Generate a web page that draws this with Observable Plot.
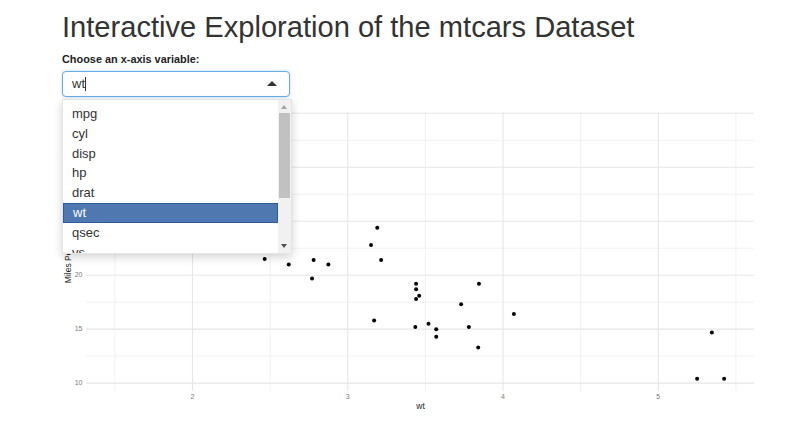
<!DOCTYPE html>
<html>
<head>
<meta charset="utf-8">
<script src="https://cdn.jsdelivr.net/npm/d3@7"></script>
<script src="https://cdn.jsdelivr.net/npm/@observablehq/plot@0.6"></script>
<style>
  html, body { margin: 0; padding: 0; background: #fff; width: 800px; height: 440px; overflow: hidden; }
  body { font-family: "Liberation Sans", Arial, Helvetica, sans-serif; color: #333; position: relative; }
  h1 { position: absolute; left: 62px; top: 7px; margin: 0; font-size: 29.1px; font-weight: 400; line-height: 40px; white-space: nowrap; }
  .lbl { position: absolute; left: 62px; top: 52px; font-size: 10.9px; font-weight: 700; line-height: 14px; color: #222; }
  #chart { position: absolute; left: 0; top: 100px; }
  .sel { position: absolute; left: 62px; top: 71px; width: 226px; height: 24px; border: 1px solid #66afe9; border-radius: 4px; box-shadow: 0 0 3px rgba(102,175,233,0.5); background: #fff; z-index: 2; }
  .sel .val { position: absolute; left: 9px; top: 4px; font-size: 13px; color: #333; }
  .sel .caret { position: absolute; left: 22px; top: 5px; width: 1px; height: 14px; background: #333; }
  .sel .tri { position: absolute; right: 12px; top: 9px; width: 0; height: 0; border-left: 5px solid transparent; border-right: 5px solid transparent; border-bottom: 5px solid #333; }
  .drop { position: absolute; left: 62px; top: 99px; width: 228px; height: 153px; background: #fff; border: 1px solid #e4e4e4; border-radius: 0 0 3px 3px; box-shadow: 0 3px 10px rgba(0,0,0,0.18); overflow: hidden; z-index: 2; }
  .drop .item { position: absolute; left: 0; width: 215px; height: 20px; font-size: 13px; line-height: 20px; padding-left: 9px; box-sizing: border-box; color: #333; }
  .drop .item.on { background: #4f78b1; color: #fff; border: 1px solid #2d5b9c; line-height: 18px; }
  .sb { position: absolute; right: 0; top: 0; width: 13px; height: 100%; background: #f1f1f1; }
  .sb .thumb { position: absolute; left: 1px; top: 13px; width: 11px; height: 85px; background: #c1c1c1; }
  .sb .up { position: absolute; left: 3px; top: 5px; border-left: 3.5px solid transparent; border-right: 3.5px solid transparent; border-bottom: 4px solid #a3a3a3; }
  .sb .dn { position: absolute; left: 3px; bottom: 5px; border-left: 3.5px solid transparent; border-right: 3.5px solid transparent; border-top: 4px solid #505050; }
</style>
</head>
<body>
<h1>Interactive Exploration of the mtcars Dataset</h1>
<div class="lbl">Choose an x-axis variable:</div>
<div class="sel"><span class="val">wt</span><span class="caret"></span><span class="tri"></span></div>
<div class="drop" id="drop"><div class="sb"><div class="up"></div><div class="thumb"></div><div class="dn"></div></div></div>
<div id="chart"></div>
<script>
// mtcars: weight (1000 lbs) and miles per gallon
const wt  = [2.620, 2.875, 2.320, 3.215, 3.440, 3.460, 3.570, 3.190, 3.150, 3.440, 3.440, 4.070, 3.730, 3.780, 5.250, 5.424, 5.345, 2.200, 1.615, 1.835, 2.465, 3.520, 3.435, 3.840, 3.845, 1.935, 2.140, 1.513, 3.170, 2.770, 3.570, 2.780];
const mpg = [21.0, 21.0, 22.8, 21.4, 18.7, 18.1, 14.3, 24.4, 22.8, 19.2, 17.8, 16.4, 17.3, 15.2, 10.4, 10.4, 14.7, 32.4, 30.4, 33.9, 21.5, 15.5, 15.2, 13.3, 19.2, 27.3, 26.0, 30.4, 15.8, 19.7, 15.0, 21.4];
const options = ["mpg", "cyl", "disp", "hp", "drat", "wt", "qsec", "vs", "am", "gear", "carb"];
const selected = "wt";
const xMajor = [2, 3, 4, 5];
const xMinor = [1.5, 2.5, 3.5, 4.5, 5.5];
const yMajor = [10, 15, 20, 25, 30, 35];
const yMinor = [12.5, 17.5, 22.5, 27.5, 32.5];
const xTitle = "wt";
const yTitle = "Miles Per Gallon";

// dropdown list
const drop = document.getElementById("drop");
options.forEach((o, i) => {
  const d = document.createElement("div");
  d.className = "item" + (o === selected ? " on" : "");
  d.style.top = (4 + i * 19.8) + "px";
  d.textContent = o;
  drop.insertBefore(d, drop.firstChild);
});

const data = wt.map((w, i) => ({wt: w, mpg: mpg[i]}));
const pad = (lo, hi) => [lo - (hi - lo) * 0.05, hi + (hi - lo) * 0.05];
const xd = pad(d3.min(wt), d3.max(wt));
const yd = pad(d3.min(mpg), d3.max(mpg));

const chart = Plot.plot({
  width: 800,
  height: 320,
  marginTop: 12,
  marginBottom: 29,
  marginLeft: 86,
  marginRight: 46,
  style: {fontFamily: "Liberation Sans, Arial, sans-serif", background: "#fff"},
  x: {domain: xd, label: null, axis: null},
  y: {domain: yd, label: null, axis: null},
  marks: [
    Plot.gridX(xMinor, {stroke: "#ebebeb", strokeOpacity: 1, strokeWidth: 0.7}),
    Plot.gridY(yMinor, {stroke: "#ebebeb", strokeOpacity: 1, strokeWidth: 0.7}),
    Plot.gridX(xMajor, {stroke: "#e6e6e6", strokeOpacity: 1, strokeWidth: 1.1}),
    Plot.gridY(yMajor, {stroke: "#e6e6e6", strokeOpacity: 1, strokeWidth: 1.1}),
    Plot.axisX(xMajor, {tickSize: 0, tickPadding: 3, fontSize: 7, fill: "#7a7a7a", label: null, tickFormat: d3.format("d")}),
    Plot.axisY(yMajor, {tickSize: 0, tickPadding: 4, fontSize: 7, fill: "#7a7a7a", label: null, tickFormat: d3.format("d")}),
    Plot.dot(data, {x: "wt", y: "mpg", r: 2, fill: "#000", stroke: null}),
    Plot.text([xTitle], {frameAnchor: "bottom", dy: 17, fontSize: 8.5, fill: "#222"}),
    Plot.text([yTitle], {frameAnchor: "left", dx: -18, rotate: -90, textAnchor: "middle", fontSize: 8.5, fill: "#222"})
  ]
});
document.getElementById("chart").appendChild(chart);
</script>
</body>
</html>
